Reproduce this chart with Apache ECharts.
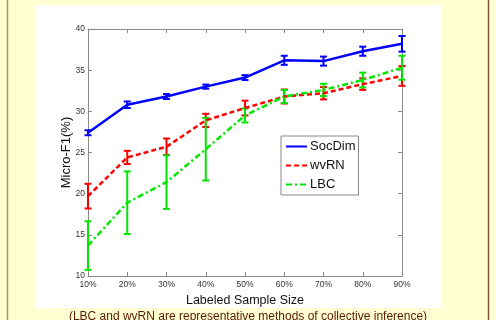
<!DOCTYPE html>
<html><head><meta charset="utf-8">
<script src="https://cdn.jsdelivr.net/npm/echarts@6/dist/echarts.min.js"></script>
<style>html,body{margin:0;padding:0;background:#FFFFD2;}#c{width:496px;height:320px;}</style>
</head><body><div id="c"></div>
<script>
var categories = ['10%','20%','30%','40%','50%','60%','70%','80%','90%'];
var socDim = [27.4, 30.8, 31.8, 33.0, 34.1, 36.2, 36.1, 37.3, 38.2];
var socDimErr = [0.3, 0.4, 0.3, 0.25, 0.3, 0.55, 0.55, 0.55, 0.95];
var wvRN = [19.7, 24.4, 25.7, 28.9, 30.4, 31.8, 32.2, 33.3, 34.3];
var wvRNErr = [1.5, 0.8, 1.0, 0.8, 0.9, 0.85, 0.75, 0.7, 1.2];
var lbc = [13.7, 18.9, 21.4, 25.4, 29.5, 31.8, 32.6, 33.8, 35.3];
var lbcErr = [2.95, 3.8, 3.25, 3.8, 0.85, 0.8, 0.75, 0.9, 1.45];
var yTicks = [10, 15, 20, 25, 30, 35, 40];

var chart = echarts.init(document.getElementById('c'));

function errSeries(name, vals, errs, color){
  var data = vals.map(function(v,i){ return [i, v - errs[i], v + errs[i]]; });
  return {
    type: 'custom', name: name + ' err', z: 5,
    data: data,
    renderItem: function(params, api){
      var x = api.value(0);
      var lo = api.coord([x, api.value(1)]);
      var hi = api.coord([x, api.value(2)]);
      var w = 3.5;
      var st = {stroke: color, lineWidth: 2};
      return {type:'group', children:[
        {type:'line', shape:{x1:lo[0],y1:lo[1],x2:hi[0],y2:hi[1]}, style:st},
        {type:'line', shape:{x1:lo[0]-w,y1:lo[1],x2:lo[0]+w,y2:lo[1]}, style:st},
        {type:'line', shape:{x1:hi[0]-w,y1:hi[1],x2:hi[0]+w,y2:hi[1]}, style:st}
      ]};
    },
    encode: {x: 0, y: [1, 2]},
    silent: true
  };
}

var axisGray = '#8a8a8a';
var option = {
  backgroundColor: '#FFFFD2',
  animation: false,
  graphic: [
    {type:'rect', shape:{x:36,y:5,width:405,height:303}, style:{fill:'#ffffff'}, z:-10},
    {type:'line', shape:{x1:7.5,y1:0,x2:7.5,y2:320}, style:{stroke:'#A88E80', lineWidth:1.5}},
    {type:'line', shape:{x1:488.5,y1:0,x2:488.5,y2:320}, style:{stroke:'#8B4A3A', lineWidth:1.5}},
    {type:'text', x:248, y:317, style:{text:'(LBC and wvRN are representative methods of collective inference)', font:'12px "Liberation Sans", Arial, sans-serif', fill:'#5A1A08', align:'center', verticalAlign:'middle'}}
  ],
  grid: {left: 88, top: 29, right: 94, bottom: 44, show: false},
  legend: {
    data: ['SocDim', 'wvRN', 'LBC'],
    orient: 'vertical',
    left: 281, top: 136,
    backgroundColor: '#ffffff',
    borderColor: '#888888', borderWidth: 1,
    padding: [4, 3, 4, 4],
    itemGap: 6,
    itemWidth: 21, itemHeight: 11,
    itemStyle: {color: 'transparent', borderWidth: 0, opacity: 0},
    textStyle: {fontSize: 13, color: '#111', fontFamily: '"Liberation Sans", Arial, sans-serif', padding:[0,0,0,-2]}
  },
  xAxis: [{
    type: 'category', data: categories, boundaryGap: false,
    name: 'Labeled Sample Size', nameLocation: 'middle', nameGap: 16,
    nameTextStyle: {fontSize: 12.5, color: '#111', fontFamily: '"Liberation Sans", Arial, sans-serif'},
    axisLine: {lineStyle: {color: axisGray}},
    axisTick: {inside: true, length: 4, lineStyle:{color: axisGray}},
    axisLabel: {fontSize: 8.5, color: '#333', margin: 4, fontFamily: '"Liberation Sans", Arial, sans-serif'},
    splitLine: {show: false}
  }, {
    type: 'category', data: categories, boundaryGap: false, position: 'top',
    axisLine: {lineStyle: {color: axisGray}},
    axisTick: {inside: true, length: 4, lineStyle:{color: axisGray}},
    axisLabel: {show: false}
  }],
  yAxis: [{
    type: 'value', min: 10, max: 40, interval: 5,
    name: 'Micro-F1(%)', nameLocation: 'middle', nameGap: 15, nameRotate: 90, nameMoveOverlap: false,
    nameTextStyle: {fontSize: 13, color: '#111', fontFamily: '"Liberation Sans", Arial, sans-serif'},
    axisLine: {show: true, lineStyle: {color: axisGray}},
    axisTick: {show: true, inside: true, length: 4, lineStyle:{color: axisGray}},
    axisLabel: {fontSize: 8.5, color: '#333', margin: 3, fontFamily: '"Liberation Sans", Arial, sans-serif',
      formatter: function(v){ return yTicks.indexOf(v) >= 0 ? String(v) : ''; }},
    splitLine: {show: false}
  }, {
    type: 'value', min: 10, max: 40, interval: 5, position: 'right',
    axisLine: {show: true, lineStyle: {color: axisGray}},
    axisTick: {show: true, inside: true, length: 4, lineStyle:{color: axisGray}},
    axisLabel: {show: false},
    splitLine: {show: false}
  }],
  series: [
    {name: 'SocDim', type: 'line', data: socDim, symbol: 'none', z: 6,
     itemStyle: {color: '#0000FF'}, lineStyle: {color: '#0000FF', width: 2.5, type: 'solid'}},
    {name: 'wvRN', type: 'line', data: wvRN, symbol: 'none', z: 6,
     itemStyle: {color: '#FF0000'}, lineStyle: {color: '#FF0000', width: 2.5, type: [5, 3]}},
    {name: 'LBC', type: 'line', data: lbc, symbol: 'none', z: 6,
     itemStyle: {color: '#00E600'}, lineStyle: {color: '#00E600', width: 2.5, type: [6, 3, 2, 3]}},
    errSeries('SocDim', socDim, socDimErr, '#0000FF'),
    errSeries('wvRN', wvRN, wvRNErr, '#FF0000'),
    errSeries('LBC', lbc, lbcErr, '#00E600')
  ]
};
chart.setOption(option);
</script></body></html>
